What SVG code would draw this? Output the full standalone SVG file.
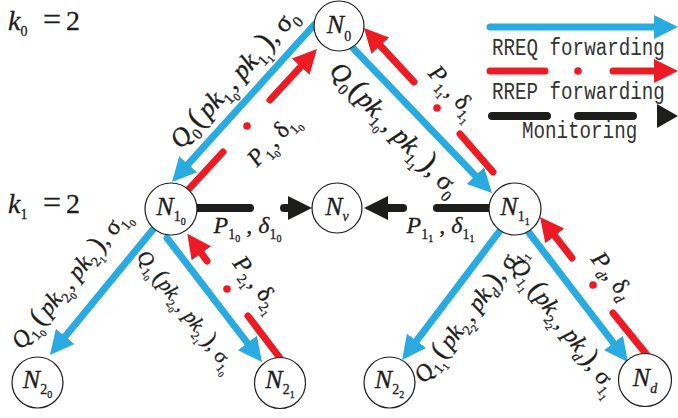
<svg xmlns="http://www.w3.org/2000/svg" width="678" height="418" viewBox="0 0 678 418">
<style>
.nd circle{fill:#fff;stroke:#1d1d1b;stroke-width:1.2}
.t{font-family:"Liberation Serif","DejaVu Serif",serif;font-size:24px;fill:#1d1d1b;stroke:#1d1d1b;stroke-width:0.3}
.nl{font-size:26px}
.kl{font-size:28px}
.eq{font-size:32px}
.i{font-style:italic}
.s{font-size:14px}
.ss{font-size:10px}
.pr{font-size:28px}
.bl{stroke:#29abe2;stroke-width:7;stroke-linecap:round;fill:none}
.rd{stroke:#ed1c24;stroke-width:7;stroke-linecap:round;fill:none}
.bk{stroke:#1d1d1b;stroke-width:8;stroke-linecap:round;fill:none}
.ab{marker-end:url(#mb)}
.ar{marker-end:url(#mr)}
.ak{marker-end:url(#mk)}
.lg{font-family:"Liberation Mono","DejaVu Sans Mono",monospace;font-size:19.2px;fill:#333}
</style>
<defs>
<marker id="mb" markerUnits="userSpaceOnUse" viewBox="0 -13 26 26" markerWidth="26" markerHeight="26" refX="11" refY="0" orient="auto"><path d="M0,-12 L24,0 L0,12 Z" fill="#29abe2"/></marker>
<marker id="mr" markerUnits="userSpaceOnUse" viewBox="0 -13 26 26" markerWidth="26" markerHeight="26" refX="11" refY="0" orient="auto"><path d="M0,-12 L24,0 L0,12 Z" fill="#ed1c24"/></marker>
<marker id="mk" markerUnits="userSpaceOnUse" viewBox="0 -13 26 26" markerWidth="26" markerHeight="26" refX="11" refY="0" orient="auto"><path d="M0,-12 L24,0 L0,12 Z" fill="#1d1d1b"/></marker>
</defs>

<g id="connectors">
<path class="bl ab" d="M314,25 L180.7,172.4"/>
<path class="bl ab" d="M352,47 L483,183.6"/>
<path class="bl ab" d="M155,227 L58.2,345"/>
<path class="bl ab" d="M167,238 L254.1,351.7"/>
<path class="bl ab" d="M502,228 L409.9,349.6"/>
<path class="bl ab" d="M527,230 L620.1,351.7"/>

<path class="rd" d="M188,190 L223,152"/>
<circle cx="247" cy="126" r="3.8" fill="#ed1c24"/>
<path class="rd ar" d="M270,100 L308.2,58.6"/>

<path class="rd" d="M493,172 L460,134"/>
<circle cx="437" cy="108" r="3.8" fill="#ed1c24"/>
<path class="rd ar" d="M414,82 L372.8,37.5"/>

<path class="rd" d="M280,358 L248,316"/>
<circle cx="227" cy="289" r="3.8" fill="#ed1c24"/>
<path class="rd ar" d="M207,261 L194.9,244.3"/>

<path class="rd" d="M647,355 L613,313"/>
<circle cx="593" cy="285" r="3.8" fill="#ed1c24"/>
<path class="rd ar" d="M572,258 L548,227.2"/>

<path class="bk" d="M198,208 L250,208"/>
<path class="bk ak" d="M284,208 L299,208"/>
<path class="bk" d="M488,208 L437,208"/>
<path class="bk ak" d="M403,208 L377,208"/>
</g>

<g id="N0" class="nd"><circle cx="339" cy="26" r="25"/><text class="t nl" x="339" y="33" text-anchor="middle"><tspan class="i">N</tspan><tspan class="s" dy="8">0</tspan></text></g>
<g id="N1_0" class="nd"><circle cx="171" cy="209" r="26"/><text class="t nl" x="171" y="215" text-anchor="middle"><tspan class="i">N</tspan><tspan class="s" dy="6">1</tspan><tspan class="ss" dy="4">0</tspan></text></g>
<g id="Nv" class="nd"><circle cx="337" cy="208" r="25"/><text class="t nl" x="337" y="215" text-anchor="middle"><tspan class="i">N</tspan><tspan class="s i" dy="6">v</tspan></text></g>
<g id="N1_1" class="nd"><circle cx="515" cy="209" r="26"/><text class="t nl" x="515" y="215" text-anchor="middle"><tspan class="i">N</tspan><tspan class="s" dy="6">1</tspan><tspan class="ss" dy="4">1</tspan></text></g>
<g id="N2_0" class="nd"><circle cx="37.5" cy="382.5" r="25.5"/><text class="t nl" x="37.5" y="388" text-anchor="middle"><tspan class="i">N</tspan><tspan class="s" dy="6">2</tspan><tspan class="ss" dy="4">0</tspan></text></g>
<g id="N2_1" class="nd"><circle cx="280" cy="383" r="25.5"/><text class="t nl" x="280" y="388" text-anchor="middle"><tspan class="i">N</tspan><tspan class="s" dy="6">2</tspan><tspan class="ss" dy="4">1</tspan></text></g>
<g id="N2_2" class="nd"><circle cx="389.5" cy="382.5" r="25.5"/><text class="t nl" x="389.5" y="388" text-anchor="middle"><tspan class="i">N</tspan><tspan class="s" dy="6">2</tspan><tspan class="ss" dy="4">2</tspan></text></g>
<g id="Nd" class="nd"><circle cx="645" cy="380" r="26.5"/><text class="t nl" x="645" y="386" text-anchor="middle"><tspan class="i">N</tspan><tspan class="s i" dy="7">d</tspan></text></g>

<g id="levels">
<text class="t kl" x="8" y="30"><tspan class="i">k</tspan><tspan class="s" dy="6" font-size="16">0</tspan><tspan class="eq" x="43" dy="-6">=</tspan><tspan x="66">2</tspan></text>
<text class="t kl" x="8" y="213"><tspan class="i">k</tspan><tspan class="s" dy="6" font-size="16">1</tspan><tspan class="eq" x="43" dy="-6">=</tspan><tspan x="66">2</tspan></text>
</g>

<g id="labels">
<text class="t" text-anchor="middle" transform="translate(240,84) rotate(-48.2) scale(1.1)"><tspan class="i">Q</tspan><tspan class="s" dy="6">0</tspan><tspan class="pr" dy="-6" dx="1">(</tspan><tspan class="i" dx="3">pk</tspan><tspan class="s" dy="6">1</tspan><tspan class="ss" dy="3">0</tspan><tspan dy="-9">, </tspan><tspan class="i">pk</tspan><tspan class="s" dy="6">1</tspan><tspan class="ss" dy="3">1</tspan><tspan class="pr" dy="-9" dx="1">)</tspan><tspan>, σ</tspan><tspan class="s" dy="6">0</tspan></text>

<text class="t" text-anchor="middle" transform="translate(278,145) rotate(-47.5)"><tspan class="i">P</tspan><tspan class="s" dy="6">1</tspan><tspan class="ss" dy="3">0</tspan><tspan dy="-9">, δ</tspan><tspan class="s" dy="6">1</tspan><tspan class="ss" dy="3">0</tspan></text>

<text class="t" text-anchor="middle" transform="translate(389,135) rotate(46) scale(1.1)"><tspan class="i">Q</tspan><tspan class="s" dy="6">0</tspan><tspan class="pr" dy="-6" dx="1">(</tspan><tspan class="i" dx="1">pk</tspan><tspan class="s" dy="6">1</tspan><tspan class="ss" dy="3">0</tspan><tspan dy="-9">, </tspan><tspan class="i">pk</tspan><tspan class="s" dy="6">1</tspan><tspan class="ss" dy="3">1</tspan><tspan class="pr" dy="-9" dx="1">)</tspan><tspan>, σ</tspan><tspan class="s" dy="6">0</tspan></text>

<text class="t" text-anchor="middle" transform="translate(448,97) rotate(48)"><tspan class="i">P</tspan><tspan class="s" dy="6">1</tspan><tspan class="ss" dy="3">1</tspan><tspan dy="-9">, δ</tspan><tspan class="s" dy="6">1</tspan><tspan class="ss" dy="3">1</tspan></text>

<text class="t" text-anchor="middle" x="247.5" y="233"><tspan class="i">P</tspan><tspan class="s" dy="6">1</tspan><tspan class="ss" dy="3">0</tspan><tspan dy="-9"> , </tspan><tspan class="i">δ</tspan><tspan class="s" dy="6">1</tspan><tspan class="ss" dy="3">0</tspan></text>
<text class="t" text-anchor="middle" x="440.5" y="233"><tspan class="i">P</tspan><tspan class="s" dy="6">1</tspan><tspan class="ss" dy="3">1</tspan><tspan dy="-9"> , </tspan><tspan class="i">δ</tspan><tspan class="s" dy="6">1</tspan><tspan class="ss" dy="3">1</tspan></text>

<text class="t" text-anchor="middle" transform="translate(76,284) rotate(-50.9)"><tspan class="i">Q</tspan><tspan class="s" dy="6">1</tspan><tspan class="ss" dy="3">0</tspan><tspan class="pr" dy="-9" dx="1">(</tspan><tspan class="i" dx="3">pk</tspan><tspan class="s" dy="6">2</tspan><tspan class="ss" dy="3">0</tspan><tspan dy="-9">, </tspan><tspan class="i">pk</tspan><tspan class="s" dy="6">2</tspan><tspan class="ss" dy="3">1</tspan><tspan class="pr" dy="-9" dx="1">)</tspan><tspan>, σ</tspan><tspan class="s" dy="6">1</tspan><tspan class="ss" dy="3">0</tspan></text>

<text class="t" text-anchor="middle" transform="translate(181,315) rotate(52.2) scale(0.87)"><tspan class="i">Q</tspan><tspan class="s" dy="6">1</tspan><tspan class="ss" dy="3">0</tspan><tspan class="pr" dy="-9" dx="1">(</tspan><tspan class="i" dx="1">pk</tspan><tspan class="s" dy="6">2</tspan><tspan class="ss" dy="3">0</tspan><tspan dy="-9">, </tspan><tspan class="i">pk</tspan><tspan class="s" dy="6">2</tspan><tspan class="ss" dy="3">1</tspan><tspan class="pr" dy="-9" dx="1">)</tspan><tspan>, σ</tspan><tspan class="s" dy="6">1</tspan><tspan class="ss" dy="3">0</tspan></text>

<text class="t" text-anchor="middle" transform="translate(251,288) rotate(52)"><tspan class="i">P</tspan><tspan class="s" dy="6">2</tspan><tspan class="ss" dy="3">1</tspan><tspan dy="-9">, δ</tspan><tspan class="s" dy="6">2</tspan><tspan class="ss" dy="3">1</tspan></text>

<text class="t" text-anchor="middle" transform="translate(475,318) rotate(-53.1)"><tspan class="i">Q</tspan><tspan class="s" dy="6">1</tspan><tspan class="ss" dy="3">1</tspan><tspan class="pr" dy="-9" dx="1">(</tspan><tspan class="i" dx="3">pk</tspan><tspan class="s" dy="6">2</tspan><tspan class="ss" dy="3">2</tspan><tspan dy="-9">, </tspan><tspan class="i">pk</tspan><tspan class="s i" dy="6">d</tspan><tspan class="pr" dy="-6" dx="1">)</tspan><tspan>, σ</tspan><tspan class="s" dy="6">1</tspan><tspan class="ss" dy="3">1</tspan></text>

<text class="t" text-anchor="middle" transform="translate(559,331) rotate(52.9)"><tspan class="i">Q</tspan><tspan class="s" dy="6">1</tspan><tspan class="ss" dy="3">1</tspan><tspan class="pr" dy="-9" dx="1">(</tspan><tspan class="i" dx="1">pk</tspan><tspan class="s" dy="6">2</tspan><tspan class="ss" dy="3">2</tspan><tspan dy="-9">, </tspan><tspan class="i">pk</tspan><tspan class="s i" dy="6">d</tspan><tspan class="pr" dy="-6" dx="1">)</tspan><tspan>, σ</tspan><tspan class="s" dy="6">1</tspan><tspan class="ss" dy="3">1</tspan></text>

<text class="t" text-anchor="middle" transform="translate(606,280) rotate(53)"><tspan class="i">P</tspan><tspan class="s i" dy="6">d</tspan><tspan dy="-6">, δ</tspan><tspan class="s i" dy="6">d</tspan></text>
</g>

<g id="legend">
<path class="bl ab" d="M490,27 L665,27"/>
<text class="lg" transform="translate(492,55) scale(1,1.22)">RREQ forwarding</text>
<path class="rd" d="M490,71 L545,71"/>
<circle cx="578" cy="71" r="3.8" fill="#ed1c24"/>
<path class="rd ar" d="M613,71 L665,71"/>
<text class="lg" transform="translate(492,99) scale(1,1.22)">RREP forwarding</text>
<path class="bk" d="M492,116 L547,116"/>
<path class="bk" d="M578,116 L633,116"/>
<path d="M657,104 L678,116 L657,128 Z" fill="#1d1d1b"/>
<text class="lg" transform="translate(522,138) scale(1,1.22)">Monitoring</text>
</g>
</svg>
